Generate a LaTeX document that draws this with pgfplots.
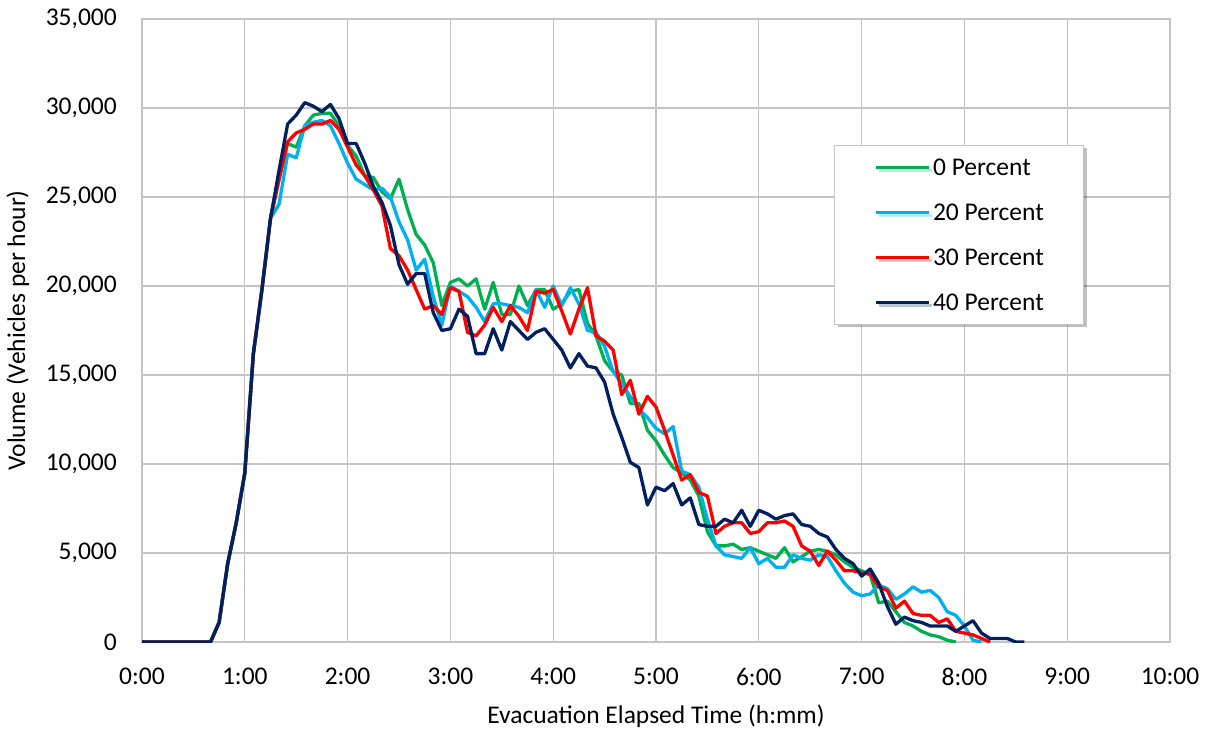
\documentclass[border=0pt]{standalone}
\usepackage{fontspec}
\setmainfont{Carlito}
\usepackage{pgfplots}
\pgfplotsset{compat=1.18}
\usetikzlibrary{shadows}

\definecolor{gridc}{HTML}{C4C4C4}
\definecolor{s0}{HTML}{00B050}
\definecolor{s20}{HTML}{00B0F0}
\definecolor{s30}{HTML}{FF0000}
\definecolor{s40}{HTML}{002060}
\newcommand\fs{\fontsize{25.5}{30}\selectfont}

\begin{document}
\begin{tikzpicture}
  \begin{axis}[
    name=ax, scale only axis, width=1028pt, height=623pt,
    xmin=0, xmax=600, ymin=0, ymax=35000,
    xtick={0,60,...,600},
    xticklabels={0:00,1:00,2:00,3:00,4:00,5:00,6:00,7:00,8:00,9:00,10:00},
    ytick={0,5000,...,35000},
    scaled y ticks=false,
    /pgf/number format/.cd, 1000 sep={,}, assume math mode=true, /pgfplots/.cd,
    grid=major, grid style={draw=gridc, line width=1.3pt},
    axis line style={draw=gridc, line width=1.3pt},
    major tick length=0pt,
    tick label style={font=\fs},
    yticklabel style={anchor=east, inner sep=0pt, xshift=-25pt},
    xticklabel style={anchor=north, inner sep=0pt, yshift=-26pt},
    xlabel={Evacuation Elapsed Time (h:mm)},
    ylabel={Volume (Vehicles per hour)},
    label style={font=\fs},
    xlabel style={at={(axis description cs:0.5,0)}, anchor=base, inner sep=0pt, yshift=-81pt},
    ylabel style={at={(axis description cs:-0.1138,0.5)}, anchor=base, inner sep=0pt, rotate=0},
    legend style={at={(axis description cs:0.6732,0.7978)}, anchor=north west,
      draw=gridc, line width=1pt, fill=white, font=\fs,
      inner xsep=40pt, inner ysep=14pt, row sep=29pt, column sep=2pt,
      nodes={inner sep=0pt, text height=16pt, text depth=0pt},
      drop shadow={shadow xshift=3pt, shadow yshift=-3pt, fill=black, opacity=0.25}},
    legend cell align=left,
    legend image code/.code={\draw[#1, line width=3.5pt] (0pt,0pt) -- (53pt,0pt);},
    every axis plot/.append style={line width=3.3pt, line join=round},
  ]
  \addplot[s0] coordinates {(0,0) (5,0) (10,0) (15,0) (20,0) (25,0) (30,0) (35,0) (40,0)
    (45,1100) (50,4400) (55,6700) (60,9500) (65,16200) (70,19800) (75,23800)
    (80,26000) (85,28000) (90,27800) (95,29000) (100,29600) (105,29700) (110,29700) (115,29000)
    (120,27900) (125,27300) (130,26200) (135,26100) (140,25300) (145,24900) (150,26000) (155,24300)
    (160,22900) (165,22300) (170,21300) (175,18900) (180,20200) (185,20400) (190,20000) (195,20400)
    (200,18700) (205,20200) (210,18400) (215,18400) (220,20000) (225,18900) (230,19800) (235,19800)
    (240,18700) (245,19000) (250,19700) (255,19800) (260,17900) (265,17200) (270,15800) (275,15200)
    (280,15000) (285,13400) (290,13400) (295,11900) (300,11300) (305,10500) (310,9800) (315,9500)
    (320,9100) (325,8200) (330,6200) (335,5400) (340,5400) (345,5500) (350,5200) (355,5300)
    (360,5100) (365,4900) (370,4700) (375,5300) (380,4500) (385,4800) (390,5100) (395,5200)
    (400,5100) (405,4900) (410,4500) (415,4200) (420,4000) (425,3800) (430,2200) (435,2300)
    (440,1700) (445,1100) (450,900) (455,600) (460,400) (465,300) (470,100) (475,0)};
  \addlegendentry{0 Percent}
  \addplot[s20] coordinates {(0,0) (5,0) (10,0) (15,0) (20,0) (25,0) (30,0) (35,0) (40,0)
    (45,1100) (50,4400) (55,6700) (60,9500) (65,16200) (70,19800) (75,23800)
    (80,24600) (85,27400) (90,27200) (95,29000) (100,29200) (105,29300) (110,29000) (115,28000)
    (120,26900) (125,26000) (130,25700) (135,25400) (140,25500) (145,25000) (150,23600) (155,22600)
    (160,20900) (165,21500) (170,19400) (175,17800) (180,20000) (185,19700) (190,19400) (195,18800)
    (200,18000) (205,19000) (210,19000) (215,18900) (220,18800) (225,18500) (230,19800) (235,18800)
    (240,20000) (245,18900) (250,19900) (255,19000) (260,17500) (265,17400) (270,16600) (275,15200)
    (280,14500) (285,13800) (290,13100) (295,12600) (300,12000) (305,11700) (310,12100) (315,9600)
    (320,9400) (325,8700) (330,6900) (335,5400) (340,4900) (345,4800) (350,4700) (355,5300)
    (360,4400) (365,4700) (370,4200) (375,4200) (380,4900) (385,4700) (390,4600) (395,4900)
    (400,4800) (405,4000) (410,3300) (415,2800) (420,2600) (425,2700) (430,3200) (435,3000)
    (440,2400) (445,2700) (450,3100) (455,2800) (460,2900) (465,2500) (470,1700) (475,1500)
    (480,900) (485,100) (490,0)};
  \addlegendentry{20 Percent}
  \addplot[s30] coordinates {(0,0) (5,0) (10,0) (15,0) (20,0) (25,0) (30,0) (35,0) (40,0)
    (45,1100) (50,4400) (55,6700) (60,9500) (65,16200) (70,19800) (75,23800)
    (80,26000) (85,28100) (90,28600) (95,28800) (100,29100) (105,29100) (110,29300) (115,28800)
    (120,27800) (125,26800) (130,26200) (135,25400) (140,24500) (145,22100) (150,21700) (155,20900)
    (160,19800) (165,18700) (170,18900) (175,18400) (180,19900) (185,19700) (190,17400) (195,17200)
    (200,17800) (205,18800) (210,18000) (215,18900) (220,18300) (225,17500) (230,19700) (235,19600)
    (240,19800) (245,18600) (250,17300) (255,18700) (260,19900) (265,17200) (270,16900) (275,16400)
    (280,13900) (285,14700) (290,12800) (295,13800) (300,13200) (305,11900) (310,10500) (315,9100)
    (320,9400) (325,8400) (330,8200) (335,6100) (340,6500) (345,6700) (350,6700) (355,6100)
    (360,6200) (365,6700) (370,6700) (375,6800) (380,6500) (385,5400) (390,5100) (395,4300)
    (400,5100) (405,4600) (410,4000) (415,4000) (420,3900) (425,3800) (430,3100) (435,2900)
    (440,1900) (445,2300) (450,1600) (455,1500) (460,1500) (465,1100) (470,1300) (475,600)
    (480,500) (485,400) (490,200) (495,0)};
  \addlegendentry{30 Percent}
  \addplot[s40] coordinates {(0,0) (5,0) (10,0) (15,0) (20,0) (25,0) (30,0) (35,0) (40,0)
    (45,1100) (50,4400) (55,6700) (60,9500) (65,16200) (70,19800) (75,23800)
    (80,26500) (85,29100) (90,29600) (95,30300) (100,30100) (105,29800) (110,30200) (115,29400)
    (120,28000) (125,28000) (130,26900) (135,25600) (140,24700) (145,23400) (150,21200) (155,20100)
    (160,20700) (165,20700) (170,18500) (175,17500) (180,17600) (185,18700) (190,18300) (195,16200)
    (200,16200) (205,17600) (210,16400) (215,18000) (220,17500) (225,17000) (230,17400) (235,17600)
    (240,17000) (245,16400) (250,15400) (255,16200) (260,15500) (265,15400) (270,14600) (275,12800)
    (280,11500) (285,10100) (290,9800) (295,7700) (300,8700) (305,8500) (310,8900) (315,7700)
    (320,8100) (325,6600) (330,6500) (335,6500) (340,6900) (345,6700) (350,7400) (355,6500)
    (360,7400) (365,7200) (370,6900) (375,7100) (380,7200) (385,6600) (390,6500) (395,6100)
    (400,5900) (405,5200) (410,4700) (415,4400) (420,3700) (425,4100) (430,3300) (435,2000)
    (440,1000) (445,1400) (450,1200) (455,1100) (460,900) (465,900) (470,900) (475,600)
    (480,900) (485,1200) (490,500) (495,200) (500,200) (505,200) (510,0) (515,0)};
  \addlegendentry{40 Percent}
  \end{axis}
  \pgfresetboundingbox
  \path[use as bounding box] ([xshift=-142pt,yshift=-90pt]ax.south west)
    rectangle ([xshift=37pt,yshift=19pt]ax.north east);
\end{tikzpicture}
\end{document}
